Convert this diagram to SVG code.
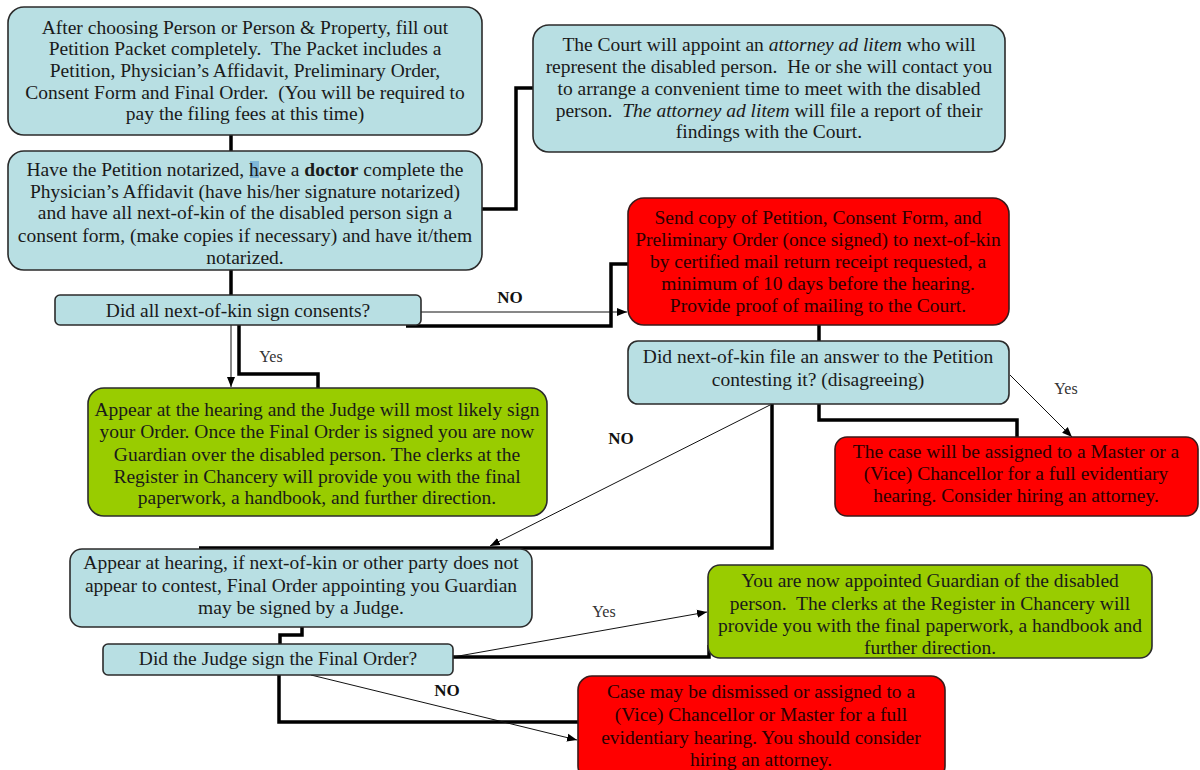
<svg xmlns="http://www.w3.org/2000/svg" width="1200" height="770" viewBox="0 0 1200 770">
<style>
.b{fill:#b8dfe3;stroke:#2b2b2b;stroke-width:1.6}
.r{fill:#ff0000;stroke:#3a1a1a;stroke-width:1.6}
.g{fill:#99cc00;stroke:#2b2b2b;stroke-width:1.6}
.t{font-family:"Liberation Serif",serif;font-size:19.5px;fill:#1a1a1a;text-anchor:middle}
.tr{font-family:"Liberation Serif",serif;font-size:19.5px;fill:#2a0000;text-anchor:middle}
.lb{font-family:"Liberation Serif",serif;font-size:17px;font-weight:bold;fill:#111;text-anchor:middle}
.ly{font-family:"Liberation Serif",serif;font-size:16px;fill:#333;text-anchor:middle}
.k{fill:none;stroke:#000;stroke-width:3.5}
.n{fill:none;stroke:#111;stroke-width:1;marker-end:url(#ah)}
</style>
<defs>
<marker id="ah" markerUnits="userSpaceOnUse" markerWidth="10" markerHeight="10" refX="10" refY="5" orient="auto" viewBox="0 0 10 10">
<path d="M0,1 L10,5 L0,9 z" fill="#000"/>
</marker>
</defs>
<rect width="1200" height="770" fill="#fff"/>
<g id="connectors">
<path class="k" d="M231,135 V151"/>
<path class="k" d="M482,209 H516 V88 H533"/>
<path class="k" d="M231,270 V295"/>
<path class="k" d="M406,326 H611 V264 H628"/>
<path class="k" d="M239,325 V374 H318 V388"/>
<path class="k" d="M819,325 V341"/>
<path class="k" d="M819,404 V420 H1017 V437"/>
<path class="k" d="M772,404 V548 H199"/>
<path class="k" d="M302,627 V635 H280 V644"/>
<path class="k" d="M453,657 H709 V645"/>
<path class="k" d="M279,675 V722 H578"/>
<path class="n" d="M421,312 H627"/>
<path class="n" d="M231,325 V387"/>
<path class="n" d="M1010,375 L1072,437"/>
<path class="n" d="M770,405 L490,546"/>
<path class="n" d="M453,657 L707,612"/>
<path class="n" d="M311,675 L577,740"/>
<text class="lb" x="510" y="303">NO</text>
<text class="ly" x="271" y="362">Yes</text>
<text class="ly" x="1066" y="394">Yes</text>
<text class="lb" x="621" y="444">NO</text>
<text class="ly" x="604" y="617">Yes</text>
<text class="lb" x="447" y="696">NO</text>
</g>
<g id="n1">
<rect class="b" x="8" y="7" width="474" height="128" rx="16"/>
<text class="t" x="245" y="34">After choosing Person or Person &amp; Property, fill out</text>
<text class="t" x="245" y="55" xml:space="preserve">Petition Packet completely.  The Packet includes a</text>
<text class="t" x="245" y="77">Petition, Physician’s Affidavit, Preliminary Order,</text>
<text class="t" x="245" y="99" xml:space="preserve">Consent Form and Final Order.  (You will be required to</text>
<text class="t" x="245" y="120">pay the filing fees at this time)</text>
</g>
<g id="n2">
<rect class="b" x="8" y="151" width="474" height="119" rx="16"/>
<rect x="250" y="161" width="9" height="17" fill="#5a9fd0" opacity="0.6"/>
<text class="t" x="245" y="176">Have the Petition notarized, have a <tspan font-weight="bold">doctor</tspan> complete the</text>
<text class="t" x="245" y="198">Physician’s Affidavit (have his/her signature notarized)</text>
<text class="t" x="245" y="219">and have all next-of-kin of the disabled person sign a</text>
<text class="t" x="245" y="242">consent form, (make copies if necessary) and have it/them</text>
<text class="t" x="245" y="264">notarized.</text>
</g>
<g id="n3">
<rect class="b" x="533" y="25" width="472" height="127" rx="16"/>
<text class="t" x="769" y="51">The Court will appoint an <tspan font-style="italic">attorney ad litem</tspan> who will</text>
<text class="t" x="769" y="73" xml:space="preserve">represent the disabled person.  He or she will contact you</text>
<text class="t" x="769" y="95">to arrange a convenient time to meet with the disabled</text>
<text class="t" x="769" y="117" xml:space="preserve">person.  <tspan font-style="italic">The attorney ad litem</tspan> will file a report of their</text>
<text class="t" x="769" y="138">findings with the Court.</text>
</g>
<g id="d1">
<rect class="b" x="55" y="295" width="366" height="30" rx="5"/>
<text class="t" x="238" y="317">Did all next-of-kin sign consents?</text>
</g>
<g id="r1">
<rect class="r" x="628" y="198" width="381" height="127" rx="16"/>
<text class="tr" x="818" y="224">Send copy of Petition, Consent Form, and</text>
<text class="tr" x="818" y="246">Preliminary Order (once signed) to next-of-kin</text>
<text class="tr" x="818" y="268">by certified mail return receipt requested, a</text>
<text class="tr" x="818" y="290">minimum of 10 days before the hearing.</text>
<text class="tr" x="818" y="312">Provide proof of mailing to the Court.</text>
</g>
<g id="d2">
<rect class="b" x="628" y="341" width="381" height="63" rx="10"/>
<text class="t" x="818" y="363">Did next-of-kin file an answer to the Petition</text>
<text class="t" x="818" y="386">contesting it? (disagreeing)</text>
</g>
<g id="r2">
<rect class="r" x="835" y="437" width="363" height="79" rx="12"/>
<text class="tr" x="1016" y="458">The case will be assigned to a Master or a</text>
<text class="tr" x="1016" y="480">(Vice) Chancellor for a full evidentiary</text>
<text class="tr" x="1016" y="502">hearing. Consider hiring an attorney.</text>
</g>
<g id="g1">
<rect class="g" x="88" y="388" width="459" height="128" rx="16"/>
<text class="t" x="317" y="416">Appear at the hearing and the Judge will most likely sign</text>
<text class="t" x="317" y="438">your Order. Once the Final Order is signed you are now</text>
<text class="t" x="317" y="461">Guardian over the disabled person. The clerks at the</text>
<text class="t" x="317" y="483">Register in Chancery will provide you with the final</text>
<text class="t" x="317" y="504">paperwork, a handbook, and further direction.</text>
</g>
<g id="n4">
<rect class="b" x="70" y="549" width="462" height="78" rx="12"/>
<text class="t" x="301" y="569">Appear at hearing, if next-of-kin or other party does not</text>
<text class="t" x="301" y="592">appear to contest, Final Order appointing you Guardian</text>
<text class="t" x="301" y="614">may be signed by a Judge.</text>
</g>
<g id="d3">
<rect class="b" x="103" y="644" width="350" height="31" rx="5"/>
<text class="t" x="278" y="665">Did the Judge sign the Final Order?</text>
</g>
<g id="g2">
<rect class="g" x="708" y="565" width="444" height="93" rx="12"/>
<text class="t" x="930" y="587">You are now appointed Guardian of the disabled</text>
<text class="t" x="930" y="610" xml:space="preserve">person.  The clerks at the Register in Chancery will</text>
<text class="t" x="930" y="632">provide you with the final paperwork, a handbook and</text>
<text class="t" x="930" y="654">further direction.</text>
</g>
<g id="r3">
<rect class="r" x="578" y="676" width="367" height="104" rx="14"/>
<text class="tr" x="761" y="698">Case may be dismissed or assigned to a</text>
<text class="tr" x="761" y="721">(Vice) Chancellor or Master for a full</text>
<text class="tr" x="761" y="744">evidentiary hearing. You should consider</text>
<text class="tr" x="761" y="766">hiring an attorney.</text>
</g>
</svg>
